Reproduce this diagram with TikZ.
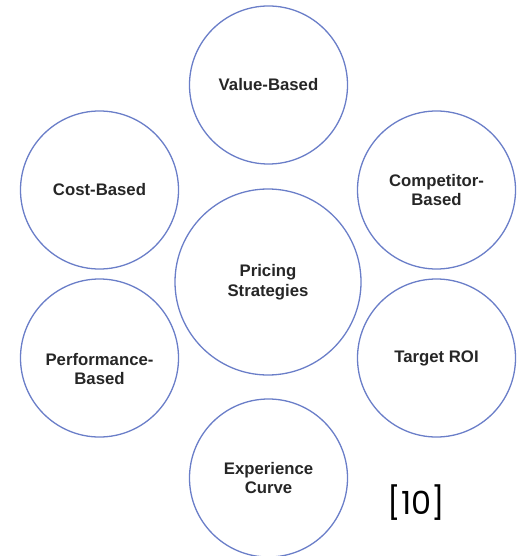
\documentclass[tikz,border=0pt]{standalone}
\usepackage{fontspec}
\setmainfont{Liberation Sans}
\newfontfamily\refont{Poppins}
\definecolor{ringblue}{HTML}{6A7EC8}
\definecolor{txtgray}{HTML}{262626}
\begin{document}
\begin{tikzpicture}[x=1bp,y=-1bp,
  bubble/.style={circle, draw=ringblue, line width=1.3bp, minimum size=158bp, inner sep=0pt,
    align=center, text=txtgray, font=\fontsize{16.8}{19.5}\selectfont\bfseries},
  bigbubble/.style={bubble, minimum size=186bp},
  lbl/.style={text=txtgray, align=center, font=\fontsize{16.8}{19.5}\selectfont\bfseries}]
\useasboundingbox (0,0) rectangle (524,556);
\node[bubble] (vb) at (268.5,85) {Value-Based};
\node[bubble] (cb) at (99.5,190) {Cost-Based};
\node[bubble] (cp) at (436.5,190) {Competitor-\\Based};
\node[bigbubble] (ps) at (268,282) {Pricing\\Strategies};
\node[bubble, label={[lbl, yshift=-11bp]center:Performance-\\Based}] (pb) at (99.5,358) {};
\node[bubble] (tr) at (436.5,358) {Target ROI};
\node[bubble] (ec) at (268.5,478) {Experience\\Curve};
\node[text=black, font=\refont\fontsize{32}{36}\selectfont, inner sep=0pt] (ref) at (416.5,503) {[10]};
\end{tikzpicture}
\end{document}
